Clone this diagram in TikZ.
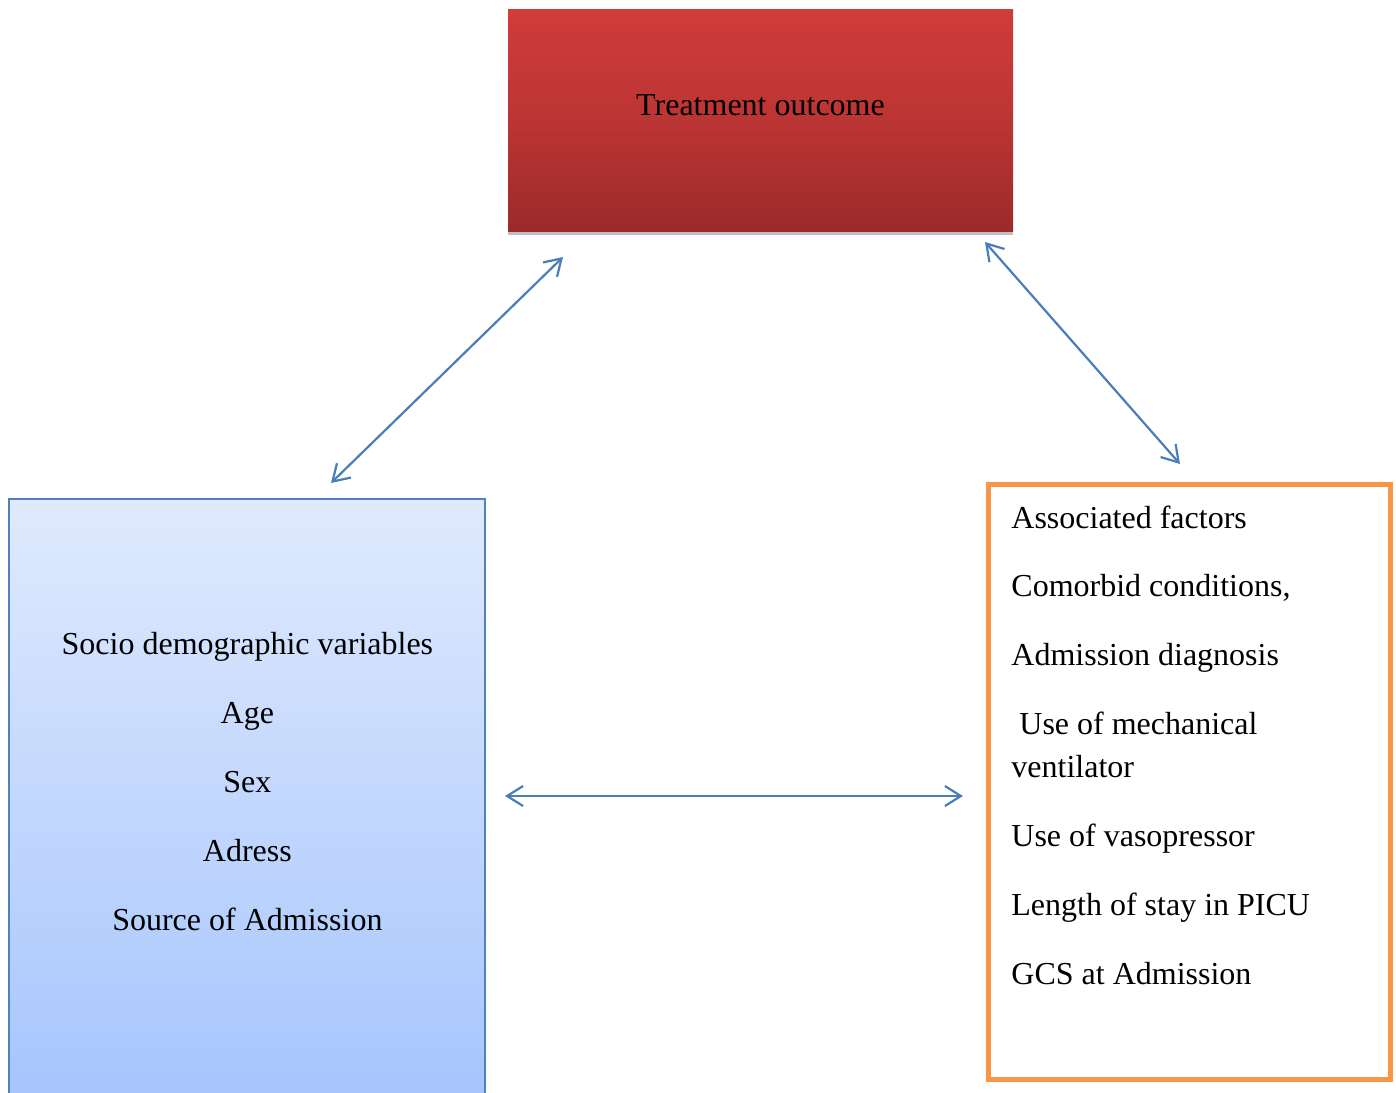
\documentclass[tikz,border=0pt]{standalone}
\usepackage{fontspec}
\setmainfont{Liberation Serif}
\usetikzlibrary{arrows.meta}
\definecolor{redtop}{HTML}{D03C3A}
\definecolor{redbot}{HTML}{9C2A2A}
\definecolor{bluetop}{HTML}{E0EAFD}
\definecolor{bluebot}{HTML}{A6C5FD}
\definecolor{blueline}{HTML}{4F81BD}
\definecolor{arrowblue}{HTML}{4A7EBB}
\definecolor{orangeline}{HTML}{F79646}
\definecolor{shadowgray}{HTML}{BFBFBF}
\tikzset{
  boxbase/.style={rectangle, inner sep=0pt, outer sep=0pt},
  txt/.style={font=\fontsize{16}{19}\selectfont, inner sep=0pt, text=black},
  link/.style={draw=arrowblue, line width=1.1pt, {Straight Barb[length=8pt,width=10pt]}-{Straight Barb[length=8pt,width=10pt]}}
}
\begin{document}
\begin{tikzpicture}[x=0.5pt,y=-0.5pt]
\useasboundingbox (0,0) rectangle (1396,1092);
\clip (0,0) rectangle (1396,1092);
% top box
\node[boxbase, minimum width=252.5pt, minimum height=111pt, top color=redtop, bottom color=redbot, middle color=redtop!60!redbot] (outcome) at (760.5,120) {};
\draw[shadowgray, line width=1.5pt] (outcome.south west) ++(0,2.5) coordinate (sh1) -- (sh1 -| outcome.south east);
\node[txt, anchor=base] (toutcome) at (760.5,115) {Treatment outcome};
% left box
\node[boxbase, draw=blueline, line width=1pt, minimum width=238pt, minimum height=300pt, top color=bluetop, bottom color=bluebot] (socio) at (247.4,799) {};
\node[txt, anchor=base] (l1) at (247.4,654) {Socio demographic variables};
\node[txt, anchor=base] (l2) at (247.4,723) {Age};
\node[txt, anchor=base] (l3) at (247.4,792) {Sex};
\node[txt, anchor=base] (l4) at (247.4,861) {Adress};
\node[txt, anchor=base] (l5) at (247.4,930) {Source of Admission};
% right box
\node[boxbase, draw=orangeline, line width=2.5pt, fill=white, minimum width=200.75pt, minimum height=297.5pt] (assoc) at (1189.25,781.5) {};
\node[txt, anchor=base west] (r1) at (1011,528) {Associated factors};
\node[txt, anchor=base west] (r2) at (1011,596) {Comorbid conditions,};
\node[txt, anchor=base west] (r3) at (1011,665) {Admission diagnosis};
\node[txt, anchor=base west] (r4) at (1019,734) {Use of mechanical};
\node[txt, anchor=base west] (r5) at (1011,777) {ventilator};
\node[txt, anchor=base west] (r6) at (1011,846) {Use of vasopressor};
\node[txt, anchor=base west] (r7) at (1011,915) {Length of stay in PICU};
\node[txt, anchor=base west] (r8) at (1011,984) {GCS at Admission};
% connectors
\coordinate (a1s) at (331,483);
\coordinate (a1e) at (563,257);
\coordinate (a2s) at (985,242);
\coordinate (a2e) at (1180,464);
\coordinate (a3s) at (505,796);
\coordinate (a3e) at (963,796);
\draw[link] (a1s) -- (a1e);
\draw[link] (a2s) -- (a2e);
\draw[link] (a3s) -- (a3e);
\end{tikzpicture}
\end{document}
